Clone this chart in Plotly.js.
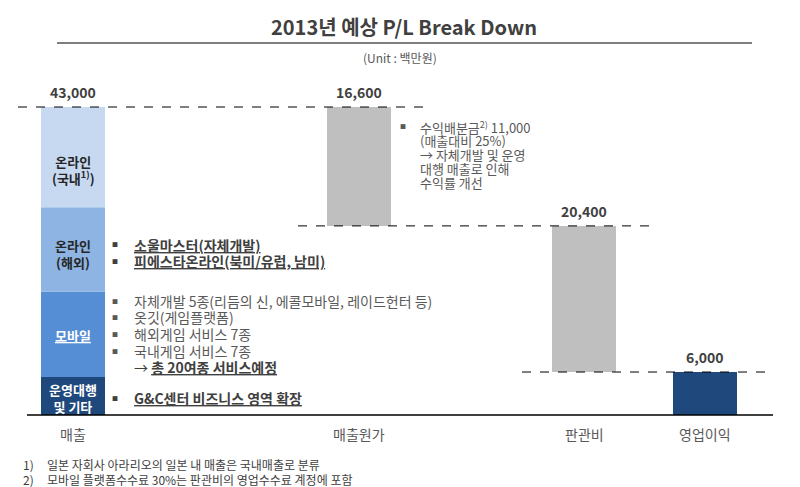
<!DOCTYPE html>
<html><head><meta charset="utf-8">
<script src="https://cdn.plot.ly/plotly-3.0.1.min.js"></script>
<style>html,body{margin:0;padding:0;background:#fff}#chart{width:800px;height:487px}</style>
</head><body><div id="chart"></div>
<script>
// ---- data ----
const categories = ['매출', '매출원가', '판관비', '영업이익'];
const totalRevenue = 43000;
const costOfSales = 16600;
const sgaExpense = 20400;
const operatingProfit = 6000;
// revenue breakdown (bottom → top)
const segmentNames = ['운영대행 및 기타', '모바일', '온라인(해외)', '온라인(국내)'];
const segmentValues = [5300, 11900, 11800, 14000];
const segmentLabels = ['<b>운영대행</b><br><b>및 기타</b>', '<b><u>모바일</u></b>', '<b>온라인</b><br><b>(해외)</b>', '<b>온라인</b><br><b>(국내<sup>1)</sup>)</b>'];
const valueLabels = ['43,000', '16,600', '20,400', '6,000'];

// ---- layout helpers (pixel-based placement) ----
const W = 800, H = 487;
const xSlot = [73, 359, 584, 705];
const barW = 64;
const y0px = 415, yTopPx = 107;
const k = (y0px - yTopPx) / totalRevenue;
const yMin = -(H - y0px) / k, yMax = y0px / k;
const px = x => x / W, py = y => 1 - y / H;

const segColors = ['#1F497D', '#558ED5', '#8DB4E2', '#C6D9F1'];
const segText = ['#FFFFFF', '#FFFFFF', '#262626', '#262626'];
const segShift = [-2, -1, -4, -13];
const KR = '"Noto Sans CJK KR", "Liberation Sans", sans-serif';

const traces = [];
const annotations = [];
let base = 0;
segmentValues.forEach((v, i) => {
  traces.push({type: 'bar', x: [xSlot[0]], y: [v], base: [base], width: [barW],
    marker: {color: segColors[i], line: {width: 0}}, name: segmentNames[i], hoverinfo: 'skip'});
  annotations.push({xref: 'x', yref: 'y', x: xSlot[0], y: base + v / 2, yshift: segShift[i],
    text: segmentLabels[i], showarrow: false, xanchor: 'center', yanchor: 'middle', borderpad: 0,
    font: {family: KR, size: 13, color: segText[i]}});
  base += v;
});
traces.push({type: 'bar', x: [xSlot[1]], y: [costOfSales], base: [totalRevenue - costOfSales],
  width: [barW], marker: {color: '#BFBFBF'}, hoverinfo: 'skip'});
traces.push({type: 'bar', x: [xSlot[2]], y: [sgaExpense], base: [operatingProfit],
  width: [barW], marker: {color: '#BFBFBF'}, hoverinfo: 'skip'});
traces.push({type: 'bar', x: [xSlot[3]], y: [operatingProfit], base: [0],
  width: [barW], marker: {color: '#1F497D'}, hoverinfo: 'skip'});

const tops = [totalRevenue, totalRevenue, totalRevenue - costOfSales, operatingProfit];
valueLabels.forEach((t, i) => {
  annotations.push({xref: 'x', yref: 'y', x: xSlot[i], y: tops[i], yshift: 15, yanchor: 'middle', borderpad: 0,
    text: '<b>' + t + '</b>', showarrow: false,
    font: {family: KR, size: 14, color: '#404040'}});
});
categories.forEach((c, i) => {
  annotations.push({xref: 'x', yref: 'paper', x: xSlot[i], y: py(434), yanchor: 'middle', borderpad: 0, text: c, showarrow: false,
    font: {family: KR, size: 14, color: '#595959'}});
});
function txt(x, y, text, opts) {
  annotations.push(Object.assign({xref: 'paper', yref: 'paper', x: px(x), y: py(y), text: text,
    showarrow: false, xanchor: 'left', yanchor: 'middle', borderpad: 0,
    font: {family: KR, size: 13, color: '#595959'}}, opts || {}));
}
// title
txt(404, 26, '<b>2013년 예상 P/L Break Down</b>', {xanchor: 'center', font: {family: KR, size: 20, color: '#404040'}});
txt(400, 58, '(Unit : 백만원)', {xanchor: 'center', font: {family: KR, size: 12, color: '#595959'}});
// bullets
const B = '■';
const bulletFont = c => ({family: KR, size: 6, color: c});
const dark = {family: KR, size: 14, color: '#404040'};
txt(111, 245, B, {font: bulletFont('#404040')});
txt(133, 245, '<b><u>소울마스터(자체개발)</u></b>', {font: dark});
txt(111, 261, B, {font: bulletFont('#404040')});
txt(133, 261, '<b><u>피에스타온라인(북미/유럽, 남미)</u></b>', {font: dark});
const mob = ['자체개발 5종(리듬의 신, 에콜모바일, 레이드헌터 등)', '옷깃(게임플랫폼)', '해외게임 서비스 7종', '국내게임 서비스 7종'];
const mobY = [301, 317, 334, 351];
mob.forEach((m, i) => {
  txt(111, mobY[i], B, {font: bulletFont('#595959')});
  txt(133, mobY[i], m, {font: {family: KR, size: 14, color: '#595959'}});
});
txt(133, 367, '→ <b><u>총 20여종 서비스예정</u></b>', {font: dark});
txt(111, 398, B, {font: bulletFont('#404040')});
txt(133, 398, '<b><u>G&C센터 비즈니스 영역 확장</u></b>', {font: dark});
// cost of sales note
const noteLines = ['수익배분금<sup>2)</sup> 11,000', '(매출대비 25%)', '→ 자체개발 및 운영', '대행 매출로 인해', '수익률 개선'];
txt(399, 127, B, {font: bulletFont('#595959')});
noteLines.forEach((l, i) => txt(419, 127 + i * 13.8, l, {font: {family: KR, size: 13, color: '#595959'}}));
// footnotes
const fn = {family: KR, size: 12, color: '#404040'};
txt(22, 464.5, '1)', {font: fn});
txt(46, 464.5, '일본 자회사 아라리오의 일본 내 매출은 국내매출로 분류', {font: fn});
txt(22, 479, '2)', {font: fn});
txt(46, 479, '모바일 플랫폼수수료 30%는 판관비의 영업수수료 계정에 포함', {font: fn});

const shapes = [
  {type: 'line', xref: 'paper', yref: 'paper', x0: px(57), x1: px(752), y0: py(43), y1: py(43), line: {color: '#7F7F7F', width: 2}},
  {type: 'line', xref: 'x', yref: 'y', x0: 18, x1: 423, y0: totalRevenue, y1: totalRevenue, line: {color: '#000', width: 1, dash: 'dash'}},
  {type: 'line', xref: 'x', yref: 'y', x0: 298, x1: 650, y0: totalRevenue - costOfSales, y1: totalRevenue - costOfSales, line: {color: '#000', width: 1, dash: 'dash'}},
  {type: 'line', xref: 'x', yref: 'y', x0: 522, x1: 767, y0: operatingProfit, y1: operatingProfit, line: {color: '#000', width: 1, dash: 'dash'}},
  {type: 'line', xref: 'x', yref: 'y', x0: 27, x1: 773, y0: 0, y1: 0, line: {color: '#000', width: 1.5}}
];

const layout = {
  width: W, height: H, margin: {l: 0, r: 0, t: 0, b: 0},
  paper_bgcolor: '#fff', plot_bgcolor: '#fff', showlegend: false, barmode: 'overlay',
  xaxis: {range: [0, W], visible: false, fixedrange: true},
  yaxis: {range: [yMin, yMax], visible: false, fixedrange: true},
  annotations: annotations, shapes: shapes
};
Plotly.newPlot('chart', traces, layout, {staticPlot: true});
</script></body></html>
